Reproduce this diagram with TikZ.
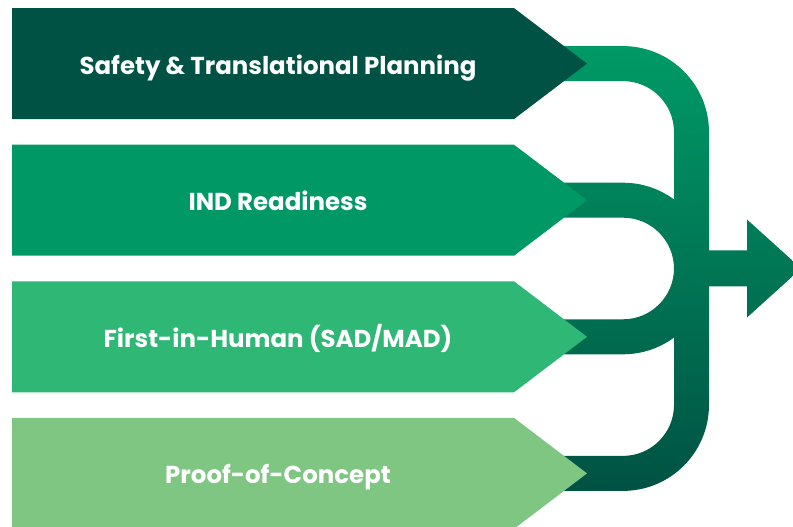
\documentclass[tikz,border=0pt]{standalone}
\usepackage{fontspec}
\setmainfont{Poppins}
\usepackage{tikz}

\definecolor{cSafety}{HTML}{005244}
\definecolor{cInd}{HTML}{009966}
\definecolor{cFih}{HTML}{2EB775}
\definecolor{cPoc}{HTML}{80C683}
\definecolor{flowTop}{HTML}{009A66}
\definecolor{flowMid}{HTML}{007A59}
\definecolor{flowBot}{HTML}{005243}

\begin{document}
\begin{tikzpicture}[
  lbl/.style={font=\fontsize{17.4}{20}\selectfont\bfseries, text=white, inner sep=0pt, anchor=base},
  flow/.style={top color=flowTop, middle color=flowMid, bottom color=flowBot}
]
\useasboundingbox (0,0) rectangle (19.825,-13.175);

% merging strips, all shaded against one common band
\foreach \y in {-1.59,-5.005} {
  \begin{scope}
    \clip (13.5,\y+0.4375) -- (15.575,\y+0.4375) arc[start angle=90, end angle=0, radius=2.15]
      -- ++(-0.875,0) arc[start angle=0, end angle=90, radius=1.275] -- (13.5,\y-0.4375) -- cycle;
    \shade[flow] (13.4,-1.15) rectangle (20.2,-12.27);
  \end{scope}
}
\foreach \y in {-8.42,-11.835} {
  \begin{scope}
    \clip (13.5,\y+0.4375) -- (15.575,\y+0.4375) arc[start angle=-90, end angle=0, radius=1.275]
      -- ++(0.875,0) arc[start angle=0, end angle=-90, radius=2.15] -- (13.5,\y-0.4375) -- cycle;
    \shade[flow] (13.4,-1.15) rectangle (20.2,-12.27);
  \end{scope}
}
% trunk and outgoing arrow
\begin{scope}
  \clip (16.85,-3.3025) rectangle (17.725,-10.1225);
  \shade[flow] (13.4,-1.15) rectangle (20.2,-12.27);
\end{scope}
\begin{scope}
  \clip (17.5,-6.2625) -- (18.675,-6.2625) -- (18.675,-5.4875) -- (20.03,-6.7125)
    -- (18.675,-7.9375) -- (18.675,-7.1625) -- (17.5,-7.1625) -- cycle;
  \shade[flow] (13.4,-1.15) rectangle (20.2,-12.27);
\end{scope}

% phase chevrons
\foreach \y/\c/\n/\t in {-1.59/cSafety/safety/{Safety \& Translational Planning},
                         -5.005/cInd/ind/{IND Readiness},
                         -8.42/cFih/fih/{First-in-Human (SAD/MAD)},
                         -11.835/cPoc/poc/{Proof-of-Concept}} {
  \fill[\c] (0.3,\y+1.3875) -- (12.85,\y+1.3875) -- (14.675,\y) -- (12.85,\y-1.3875) -- (0.3,\y-1.3875) -- cycle;
  \node[lbl] (\n) at (6.95,\y-0.265) {\t};
}
\end{tikzpicture}
\end{document}
